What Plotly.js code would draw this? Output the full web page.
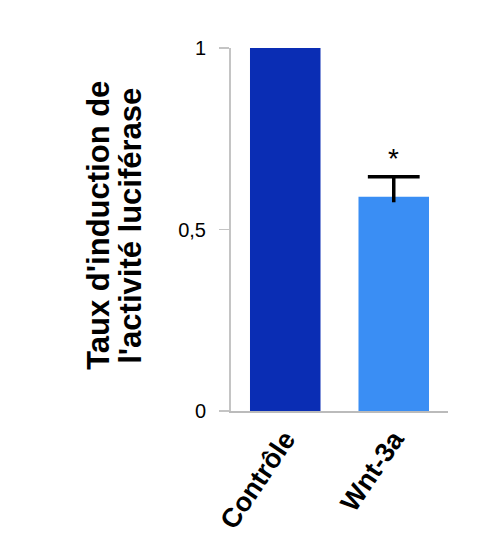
<!DOCTYPE html>
<html><head><meta charset="utf-8">
<script src="https://cdn.plot.ly/plotly-3.0.1.min.js"></script>
<style>html,body{margin:0;padding:0;background:#fff}#chart{width:502px;height:558px}</style>
</head><body><div id="chart"></div>
<script>
const categories = ["Contrôle", "Wnt-3a"];
const values = [1.0, 0.59];
const errorsPlus = [null, 0.055];
const errorsMinus = [null, 0.015];
const barColors = ["#0a2db4", "#3a8ef4"];
const tickValues = [0, 0.5, 1];
const tickLabels = ["0", "0,5", "1"];
const significance = ["", "*"];
const yTitleLines = ["Taux d'induction de", "l'activité luciférase"];

const FONT = "Liberation Sans, Arial, sans-serif";

const bars = {
  type: "bar",
  x: categories,
  y: values,
  marker: {color: barColors, line: {width: 0}},
  hoverinfo: "none"
};

// error bar: cap drawn as a line-ew marker at the top of the error, stem as a cap-less error bar
const errTop = values.map((v, i) => errorsPlus[i] == null ? null : v + errorsPlus[i]);
const errDown = errorsPlus.map((e, i) => e == null ? null : e + errorsMinus[i]);
const errors = {
  type: "scatter",
  mode: "markers",
  x: categories,
  y: errTop,
  marker: {symbol: "line-ew", size: 37, color: "#000", line: {color: "#000", width: 3.5}},
  error_y: {type: "data", symmetric: false, array: [0, 0], arrayminus: errDown,
            color: "#000", thickness: 3.5, width: 0, visible: true},
  hoverinfo: "none",
  cliponaxis: false
};

const annotations = categories.map((c, i) => significance[i] ? {
  x: c, y: errTop[i], yref: "y", xref: "x",
  text: significance[i], showarrow: false, yanchor: "bottom", yshift: 1,
  font: {family: FONT, size: 28, color: "#000"}
} : null).filter(Boolean);

// two-line y-axis title, tight line spacing as in the reference
const titleShifts = [-132, -100];
yTitleLines.forEach((t, i) => annotations.push({
  xref: "paper", yref: "paper", x: 0, y: 0.51, xanchor: "center", yanchor: "middle",
  xshift: titleShifts[i], textangle: -90, showarrow: false, text: t,
  font: {family: FONT, size: 31, color: "#000", weight: "bold"}
}));

const layout = {
  width: 502, height: 558,
  margin: {l: 231, r: 54, t: 48, b: 147},
  paper_bgcolor: "#fff", plot_bgcolor: "#fff",
  showlegend: false,
  bargap: 0.35,
  xaxis: {
    type: "category",
    range: [-0.5, 1.5],
    showline: true, linecolor: "#bbb", linewidth: 1.5,
    ticks: "", showgrid: false, zeroline: false,
    tickangle: -56,
    tickfont: {family: FONT, size: 27, color: "#000", weight: "bold"}
  },
  yaxis: {
    range: [0, 1],
    tickvals: tickValues, ticktext: tickLabels,
    showline: true, linecolor: "#c4c4c4", linewidth: 2,
    ticks: "outside", ticklen: 10, tickcolor: "#c4c4c4", tickwidth: 1.5,
    ticklabelstandoff: 9,
    showgrid: false, zeroline: false,
    tickfont: {family: FONT, size: 20, color: "#000"}
  },
  annotations: annotations
};

Plotly.newPlot("chart", [bars, errors], layout, {displayModeBar: false, staticPlot: true});
</script>
</body></html>
